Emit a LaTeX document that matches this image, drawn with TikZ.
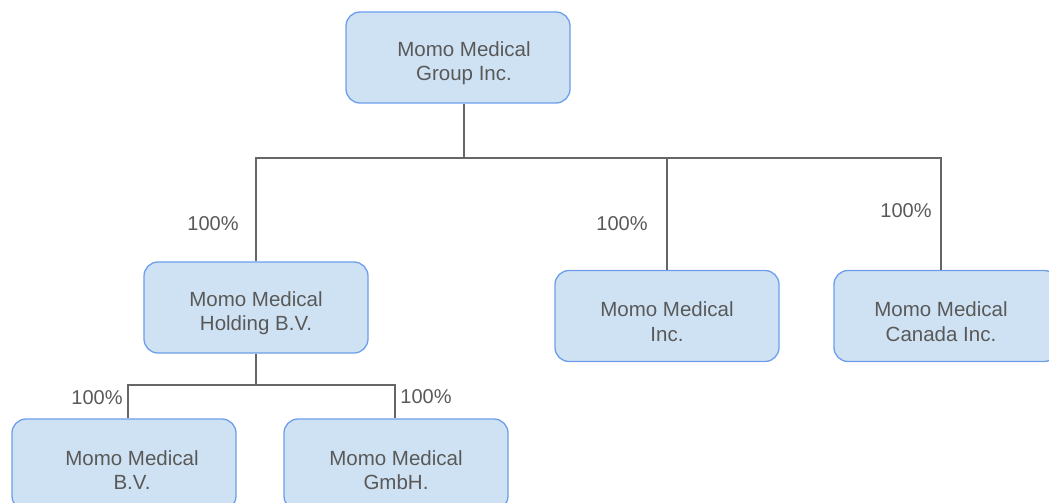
\documentclass[tikz,border=0pt]{standalone}
\usepackage{fontspec}
\setmainfont{Liberation Sans}
\definecolor{boxfill}{HTML}{CFE2F3}
\definecolor{boxline}{HTML}{6D9EEB}
\definecolor{txt}{HTML}{595959}
\definecolor{conn}{HTML}{666666}
\newcommand{\tallstrut}{\rule{0pt}{26pt}}
\begin{document}
\begin{tikzpicture}[x=1pt,y=-1pt,
  company/.style={draw=boxline,line width=1.3pt,fill=boxfill,rounded corners=14pt,
    minimum width=224pt,minimum height=91pt,align=center,text=txt,
    font=\fontsize{20.5}{24.5}\selectfont,inner sep=0pt},
  share/.style={text=txt,font=\fontsize{20}{24}\selectfont,inner sep=0pt},
  link/.style={draw=conn,line width=1.4pt}]
\useasboundingbox (0,0) rectangle (1049,503);
\node[company] (top) at (458,57.5) {\tallstrut\hspace*{12pt}Momo Medical\\\hspace*{12pt}Group Inc.};
\node[company] (hold) at (256,307.5) {\tallstrut Momo Medical\\Holding B.V.};
\node[company] (inc) at (667,316) {\tallstrut Momo Medical\\Inc.};
\node[company] (can) at (946,316) {\tallstrut Momo Medical\hspace*{10pt}\\Canada Inc.\hspace*{10pt}};
\node[company] (bv) at (124,464.5) {\tallstrut\hspace*{16pt}Momo Medical\\\hspace*{16pt}B.V.};
\node[company] (gmbh) at (396,464.5) {\tallstrut Momo Medical\\GmbH.};
\coordinate (bus1) at (464,158);
\coordinate (bus2) at (256,385);
\draw[link] ([xshift=6pt]top.south) -- (bus1);
\draw[link] (hold.north) |- (bus1) -| (inc.north);
\draw[link] (bus1) -| ([xshift=-5pt]can.north);
\draw[link] (hold.south) -- (bus2);
\draw[link] ([xshift=4pt]bv.north) |- (bus2) -| ([xshift=-1pt]gmbh.north);
\node[share] (p1) at (213,224) {100\%};
\node[share] (p2) at (622,224) {100\%};
\node[share] (p3) at (906,211) {100\%};
\node[share] (p4) at (97,398) {100\%};
\node[share] (p5) at (426,397) {100\%};
\end{tikzpicture}
\end{document}
